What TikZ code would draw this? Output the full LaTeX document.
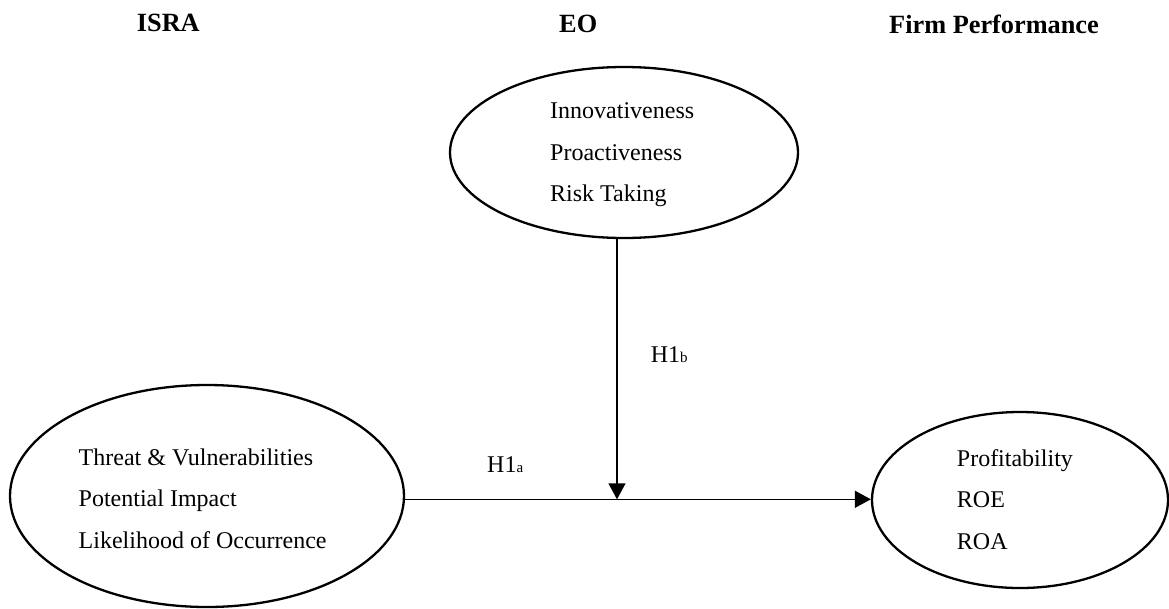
\documentclass[tikz,border=0pt]{standalone}
\usepackage{fontspec}
\setmainfont{Liberation Serif}
\usetikzlibrary{shapes.geometric,arrows.meta}
\newcommand{\subsm}[1]{{\fontsize{15}{15}\selectfont #1}}
\begin{document}
\begin{tikzpicture}[x=1pt,y=-1pt,
  oval/.style={draw,ellipse,line width=2.3pt,inner sep=0pt},
  body/.style={anchor=base west,inner sep=0pt,font=\fontsize{24}{28}\selectfont},
  head/.style={anchor=base west,inner sep=0pt,font=\fontsize{26.3}{30}\selectfont\bfseries},
  conn/.style={line width=1.4pt,-{Triangle[width=17pt,length=16pt]}}]
\useasboundingbox (0,0) rectangle (1169,608);
% headers
\node[head] (hisra) at (136.7,31.7) {ISRA};
\node[head] (heo) at (559,32) {EO};
\node[head] (hfp) at (889,33) {Firm Performance};
% ellipses
\node[oval, minimum width=348pt, minimum height=171pt] (top) at (624,152.5) {};
\node[oval, minimum width=394pt, minimum height=222pt] (left) at (207,496) {};
\node[oval, minimum width=296pt, minimum height=176pt] (right) at (1020,500) {};
% texts in top ellipse
\node[body] (t1) at (550,118.3) {Innovativeness};
\node[body] (t2) at (550,160) {Proactiveness};
\node[body] (t3) at (550,201.7) {Risk Taking};
% texts in left ellipse
\node[body] (l1) at (78.5,465) {Threat \& Vulnerabilities};
\node[body] (l2) at (78.5,506.7) {Potential Impact};
\node[body] (l3) at (78.5,548.3) {Likelihood of Occurrence};
% texts in right ellipse
\node[body] (r1) at (956.7,466) {Profitability};
\node[body] (r2) at (956.7,507) {ROE};
\node[body] (r3) at (956.7,549) {ROA};
% labels
\node[body] (h1a) at (487,472) {H1\subsm{a}};
\node[body] (h1b) at (650.7,362.7) {H1\subsm{b}};
% connectors
\coordinate (mid) at (617,499.3);
\draw[conn] (top.south -| mid) -- (mid);
\draw[conn] (left.east |- mid) -- (right.west |- mid);
\end{tikzpicture}
\end{document}
